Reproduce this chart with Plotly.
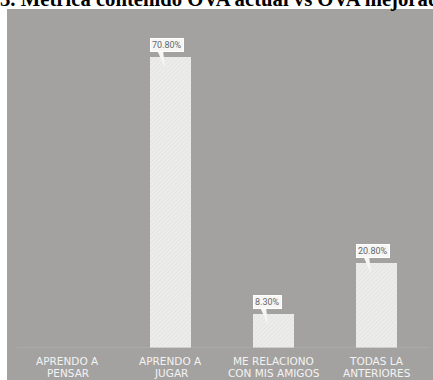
import plotly.graph_objects as go

# Survey results (percent of answers)
categories = [
    "APRENDO A<br>PENSAR",
    "APRENDO A<br>JUGAR",
    "ME RELACIONO<br>CON MIS AMIGOS",
    "TODAS LA<br>ANTERIORES",
]
values = [0.0, 70.8, 8.3, 20.8]
value_labels = ["0.00%", "70.80%", "8.30%", "20.80%"]
title_text = "3. Métrica contenido OVA actual vs OVA mejorado"

W, H = 433, 380
PANEL = "#a3a2a0"
M_L, M_R, M_T, M_B = 7, 0, 9, 32
plot_w = W - M_L - M_R
plot_h = H - M_T - M_B

# axis scales
px_per_x = 103.0
first_center = 67.5
x_lo = -(first_center - M_L) / px_per_x
x_hi = x_lo + plot_w / px_per_x
px_per_y = 4.109
y_hi = plot_h / px_per_y
bar_w = 41 / px_per_x

xs = list(range(len(categories)))

fig = go.Figure()
fig.add_trace(go.Bar(
    x=xs, y=values, width=bar_w,
    marker=dict(
        color="#e8e8e7",
        line=dict(width=0),
        pattern=dict(shape="/", fgcolor="#d2d2d1", bgcolor="#ececeb", size=3, solidity=0.25),
    ),
    hoverinfo="skip",
))

shapes = []
# grey panel behind the chart, running down under the category labels
shapes.append(dict(type="rect", xref="paper", yref="paper", x0=0, x1=1,
                   y0=-M_B / plot_h, y1=1, fillcolor=PANEL, line=dict(width=0), layer="below"))
# baseline
shapes.append(dict(type="line", xref="x", yref="y",
                   x0=(17 - first_center) / px_per_x, x1=3 + (430 - (first_center + 3 * px_per_x)) / px_per_x,
                   y0=0, y1=0, line=dict(color="#b4b3b1", width=1), layer="above"))

annotations = []
for i, (v, lab) in enumerate(zip(values, value_labels)):
    if v <= 0:
        continue
    left = i - bar_w / 2
    # speech-bubble tail pointing into the bar
    x_a = left + 7 / px_per_x
    x_b = left + 13 / px_per_x
    x_t = left + 15 / px_per_x
    y_top = v + 7 / px_per_y
    y_tip = v - 11 / px_per_y
    shapes.append(dict(type="path", xref="x", yref="y",
                       path=f"M {x_a},{y_top} L {x_b},{y_top} L {x_t},{y_tip} Z",
                       fillcolor="#f6f6f6", line=dict(width=0), layer="above"))
    annotations.append(dict(
        x=left, y=v, xref="x", yref="y", xanchor="left", yanchor="bottom",
        yshift=5, text=lab, showarrow=False,
        font=dict(family="Roboto", size=9, color="#666666"),
        bgcolor="#f6f6f6", bordercolor="#ffffff", borderwidth=1, borderpad=1,
    ))

# two-line category labels under the baseline
for i, cat in enumerate(categories):
    for j, line in enumerate(cat.split("<br>")):
        annotations.append(dict(
            x=i, y=0, xref="x", yref="paper", xanchor="center", yanchor="top",
            yshift=-5 - 12 * j, text=line, showarrow=False,
            font=dict(family="DejaVu Sans", size=10.5, color="#f3f3f3"),
        ))

# title across the top
annotations.append(dict(
    x=(-2 - M_L) / plot_w, y=1, xref="paper", yref="paper",
    xanchor="left", yanchor="bottom", yshift=-4,
    text=f"<b>{title_text}</b>", showarrow=False,
    font=dict(family="Liberation Serif", size=20.7, color="#000000"),
))

fig.update_layout(
    width=W, height=H,
    margin=dict(l=M_L, r=M_R, t=M_T, b=M_B, pad=0),
    paper_bgcolor="#ffffff",
    plot_bgcolor=PANEL,
    showlegend=False,
    bargap=0,
    xaxis=dict(range=[x_lo, x_hi], visible=False, fixedrange=True),
    yaxis=dict(range=[0, y_hi], visible=False, fixedrange=True),
    shapes=shapes,
    annotations=annotations,
)

fig.write_html("out.html", config={"displayModeBar": False})
